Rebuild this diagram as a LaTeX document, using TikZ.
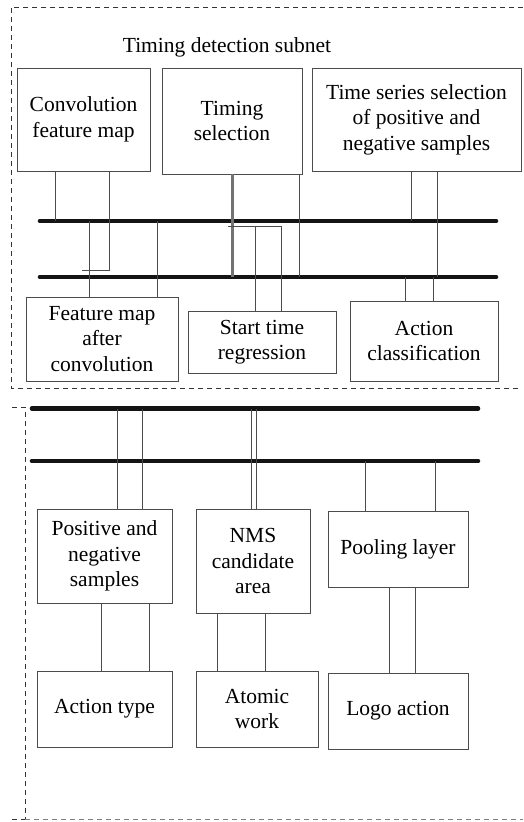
\documentclass[tikz,border=0pt]{standalone}
\usepackage{fontspec}
\setmainfont{Liberation Serif}
\usetikzlibrary{calc}

\begin{document}
\begin{tikzpicture}[x=1pt,y=-1pt,
  blk/.style={draw=black!70,line width=.9pt,inner sep=0pt,align=center,
    font=\fontsize{21.5}{25.5}\selectfont},
  link/.style={draw=black!70,line width=.8pt},
  bus/.style={draw=black!92,line width=4.6pt,line cap=round},
  frame/.style={draw=black!80,line width=.7pt,dash pattern=on 5pt off 4pt}]
  \useasboundingbox (0,0) rectangle (523,822);

  % Dashed frames of the two subnets.
  \path[frame] (523,7) -- (11,7) -- (11,388) -- (519,388);
  \path[frame] (12,407) -- (25,407) -- (25,819);
  \path[frame,draw=black!50] (25,819) -- (523,819);
  \path[frame] (12,819) -- (25,819);

  \node[font=\fontsize{21.5}{25.5}\selectfont] (title) at (227,47) {Timing detection subnet};

  % Upper row of blocks.
  \node[blk,minimum width=133pt,minimum height=103pt] (conv) at (83.5,119.5) {Convolution\\feature map};
  \node[blk,minimum width=140pt,minimum height=106pt] (tsel) at (232,121) {Timing\\selection};
  \node[blk,minimum width=209pt,minimum height=103pt] (tsps) at (416.5,119.5) {Time series selection\\of positive and\\negative samples};

  % Blocks under the two buses.
  \node[blk,minimum width=152pt,minimum height=84pt] (fmac) at (102,339) {Feature map\\after\\convolution};
  \node[blk,minimum width=148pt,minimum height=62pt] (strg) at (262,342) {Start time\\regression};
  \node[blk,minimum width=148pt,minimum height=80pt] (acls) at (424,341) {Action\\classification};

  % Lower subnet blocks.
  \node[blk,minimum width=135pt,minimum height=94pt] (pns) at (104.5,556) {Positive and\\negative\\samples};
  \node[blk,minimum width=114pt,minimum height=104pt] (nms) at (253,561) {NMS\\candidate\\area};
  \node[blk,minimum width=140pt,minimum height=76pt] (pool) at (398,549) {Pooling layer};
  \node[blk,minimum width=135pt,minimum height=76pt] (atype) at (104.5,709) {Action type};
  \node[blk,minimum width=122pt,minimum height=76pt] (atom) at (257,709) {Atomic\\work};
  \node[blk,minimum width=140pt,minimum height=76pt] (logo) at (398,711) {Logo action};

  % Buses.
  \coordinate (bus1) at (40,221);
  \coordinate (bus2) at (40,277);
  \coordinate (bus3) at (32,408.5);
  \coordinate (bus4) at (32,461);
  \path[bus] (bus1) -- (496,221);
  \path[bus] (bus2) -- (496,277);
  \path[bus] (bus3) -- (478,408.5);
  \path[bus] (bus4) -- (478,461);

  % Upper blocks down to the buses.
  \path[link] ($(conv.south west)+(39,0)$) coordinate (c1) -- (c1 |- bus1);
  \path[link] ($(conv.south west)+(93,0)$) coordinate (c2) -- ++(0,99) -- ++(-28,0);
  \path[link,draw=black!55,line width=2.4pt] ($(tsel.south west)+(71,0)$) coordinate (t1) -- (t1 |- bus2);
  \path[link] ($(tsel.south west)+(138,0)$) coordinate (t2) -- (t2 |- bus2);
  \path[link] ($(tsps.south west)+(100,0)$) coordinate (s1) -- (s1 |- bus1);
  \path[link] ($(tsps.south west)+(126,0)$) coordinate (s2) -- (s2 |- bus2);

  % Buses down to the blocks below.
  \path[link] ($(fmac.north west)+(64,0)$) coordinate (f1) -- (f1 |- bus1);
  \path[link] ($(fmac.north west)+(132,0)$) coordinate (f2) -- (f2 |- bus1);
  \path[link] ($(strg.north west)+(94,0)$) coordinate (r2) -- ++(0,-84) -- ++(-54,0);
  \path[link] ($(strg.north west)+(68,0)$) coordinate (r1) -- ++(0,-84);
  \path[link] ($(acls.north west)+(56,0)$) coordinate (a1) -- (a1 |- bus2);
  \path[link] ($(acls.north west)+(84,0)$) coordinate (a2) -- (a2 |- bus2);

  % Lower subnet links.
  \path[link] ($(pns.north west)+(81,0)$) coordinate (p1) -- (p1 |- bus3);
  \path[link] ($(pns.north west)+(106,0)$) coordinate (p2) -- (p2 |- bus3);
  \path[link] ($(nms.north west)+(56,0)$) coordinate (n1) -- (n1 |- bus3);
  \path[link] ($(nms.north west)+(61,0)$) coordinate (n2) -- (n2 |- bus3);
  \path[link] ($(pool.north west)+(38,0)$) coordinate (o1) -- (o1 |- bus4);
  \path[link] ($(pool.north west)+(108,0)$) coordinate (o2) -- (o2 |- bus4);
  \path[link] ($(pns.south west)+(65,0)$) coordinate (p3) -- (p3 |- atype.north);
  \path[link] ($(pns.south west)+(113,0)$) coordinate (p4) -- (p4 |- atype.north);
  \path[link] ($(nms.south west)+(22,0)$) coordinate (n3) -- (n3 |- atom.north);
  \path[link] ($(nms.south west)+(70,0)$) coordinate (n4) -- (n4 |- atom.north);
  \path[link] ($(pool.south west)+(62,0)$) coordinate (o3) -- (o3 |- logo.north);
  \path[link] ($(pool.south west)+(88,0)$) coordinate (o4) -- (o4 |- logo.north);
\end{tikzpicture}
\end{document}
